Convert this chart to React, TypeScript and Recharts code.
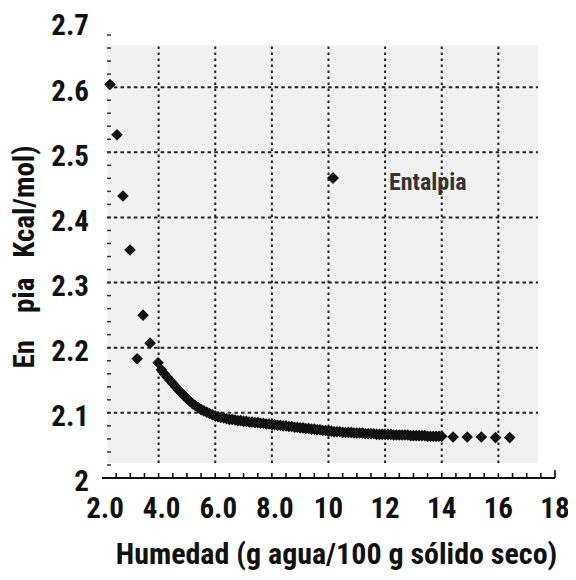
import React from 'react';
import { ScatterChart, Scatter, XAxis, YAxis, ReferenceLine, ReferenceArea, Legend, Label } from 'recharts';

const FONT = "'Liberation Sans Narrow', 'Arial Narrow', 'Roboto Condensed', 'DejaVu Sans Condensed', sans-serif";
const INK = '#111111';

// ---- data ----
const seriesName = 'Entalpia';

const xStart = [2.28, 2.53, 2.74, 2.99, 3.24, 3.45, 3.70, 3.98];
const yStart = [2.604, 2.527, 2.433, 2.350, 2.183, 2.250, 2.207, 2.177];

const xCurve = [
  4.1, 4.2, 4.3, 4.4, 4.5, 4.6, 4.7, 4.8, 4.9, 5.0,
  5.1, 5.2, 5.3, 5.4, 5.5, 5.6, 5.7, 5.8, 5.9, 6.0,
  6.1, 6.2, 6.3, 6.4, 6.5, 6.6, 6.7, 6.8, 6.9, 7.0,
  7.1, 7.2, 7.3, 7.4, 7.5, 7.6, 7.7, 7.8, 7.9, 8.0,
  8.1, 8.2, 8.3, 8.4, 8.5, 8.6, 8.7, 8.8, 8.9, 9.0,
  9.1, 9.2, 9.3, 9.4, 9.5, 9.6, 9.7, 9.8, 9.9, 10.0,
  10.1, 10.2, 10.3, 10.4, 10.5, 10.6, 10.7, 10.8, 10.9, 11.0,
  11.1, 11.2, 11.3, 11.4, 11.5, 11.6, 11.7, 11.8, 11.9, 12.0,
  12.1, 12.2, 12.3, 12.4, 12.5, 12.6, 12.7, 12.8, 12.9, 13.0,
  13.1, 13.2, 13.3, 13.4, 13.5, 13.6, 13.7, 13.8, 13.9, 14.0,
];
const yCurve = [
  2.166, 2.160, 2.155, 2.150, 2.145, 2.140, 2.135, 2.131, 2.126, 2.122,
  2.118, 2.114, 2.111, 2.108, 2.105, 2.103, 2.101, 2.099, 2.097, 2.095,
  2.094, 2.093, 2.092, 2.091, 2.090, 2.090, 2.089, 2.088, 2.088, 2.087,
  2.087, 2.086, 2.086, 2.085, 2.085, 2.084, 2.084, 2.083, 2.083, 2.082,
  2.082, 2.081, 2.081, 2.080, 2.080, 2.079, 2.079, 2.078, 2.078, 2.077,
  2.077, 2.076, 2.076, 2.075, 2.075, 2.074, 2.074, 2.073, 2.073, 2.072,
  2.072, 2.071, 2.071, 2.071, 2.070, 2.070, 2.070, 2.070, 2.069, 2.069,
  2.069, 2.069, 2.068, 2.068, 2.068, 2.068, 2.067, 2.067, 2.067, 2.067,
  2.067, 2.067, 2.066, 2.066, 2.066, 2.066, 2.066, 2.066, 2.065, 2.065,
  2.065, 2.065, 2.065, 2.065, 2.064, 2.064, 2.064, 2.064, 2.064, 2.064,
];

const xTail = [14.4, 14.9, 15.4, 15.9, 16.4];
const yTail = [2.063, 2.063, 2.063, 2.062, 2.062];

// ---- ticks ----
const xMajorTicks = [2, 4, 6, 8, 10, 12, 14, 16, 18];
const xTickLabels = ['2.0', '4.0', '6.0', '8.0', '10', '12', '14', '16', '18'];
const xMinorTicks = [
  2, 2.5, 3, 3.5, 4, 4.5, 5, 5.5, 6, 6.5, 7, 7.5, 8, 8.5, 9, 9.5, 10,
  10.5, 11, 11.5, 12, 12.5, 13, 13.5, 14, 14.5, 15, 15.5, 16, 16.5, 17, 17.5, 18,
];
const yMajorTicks = [2, 2.1, 2.2, 2.3, 2.4, 2.5, 2.6, 2.7];
const yTickLabels = ['2', '2.1', '2.2', '2.3', '2.4', '2.5', '2.6', '2.7'];
const yMinorTicks = [
  2, 2.02, 2.04, 2.06, 2.08, 2.1, 2.12, 2.14, 2.16, 2.18, 2.2, 2.22, 2.24, 2.26, 2.28,
  2.3, 2.32, 2.34, 2.36, 2.38, 2.4, 2.42, 2.44, 2.46, 2.48, 2.5, 2.52, 2.54, 2.56, 2.58,
  2.6, 2.62, 2.64, 2.66, 2.68, 2.7,
];
const xGrid = [4, 6, 8, 10, 12, 14, 16];
const yGrid = [2.1, 2.2, 2.3, 2.4, 2.5, 2.6];

// scanned paper patch behind the grid
const paperX = [2.18, 17.4];
const paperY = [2.023, 2.664];

const data = [
  ...xStart.map((x, i) => ({ x, y: yStart[i] })),
  ...xCurve.map((x, i) => ({ x, y: yCurve[i] })),
  ...xTail.map((x, i) => ({ x, y: yTail[i] })),
];

const near = (a: number, b: number) => Math.abs(a - b) < 1e-6;

const Diamond = (props: any) => {
  const { cx, cy } = props;
  const r = 5.8;
  return <polygon points={`${cx},${cy - r} ${cx + r},${cy} ${cx},${cy + r} ${cx - r},${cy}`} fill={INK} />;
};

const BottomTick = (props: any) => {
  const { x, y, payload } = props;
  const v = payload.value;
  const idx = xMajorTicks.findIndex((t) => near(t, v));
  const len = near(v, 18) ? 8 : 5;
  return (
    <g>
      {!near(v, 2) && <line x1={x} x2={x} y1={y} y2={y - len} stroke={INK} strokeWidth={1.6} />}
      {idx >= 0 && (
        <text x={x + (v < 9 ? 3 : 0)} y={y + 19} dy="0.72em" textAnchor="middle" fontFamily={FONT} fontWeight="bold" fontSize={29} fill={INK}>
          {xTickLabels[idx]}
        </text>
      )}
    </g>
  );
};

const TopTick = (props: any) => {
  const { x, y, payload } = props;
  const v = payload.value;
  const len = near(v, 2) ? 10 : near(v, 18) ? 4 : 7;
  return <line x1={x} x2={x} y1={y} y2={y + len} stroke={INK} strokeWidth={1.6} />;
};

const LeftTick = (props: any) => {
  const { x, y, payload } = props;
  const v = payload.value;
  const idx = yMajorTicks.findIndex((t) => near(t, v));
  return (
    <g>
      {!near(v, 2) && !near(v, 2.7) && (
        <line x1={x + 5} x2={x + 9} y1={y} y2={y} stroke="#333" strokeWidth={1.5} />
      )}
      {idx >= 0 && (
        <text x={x - 13} y={y + 3} dy="0.36em" textAnchor="end" fontFamily={FONT} fontWeight="bold" fontSize={29} fill={INK}>
          {yTickLabels[idx]}
        </text>
      )}
    </g>
  );
};

const renderLegend = (props: any) => {
  const item = props.payload && props.payload[0];
  return (
    <div style={{ display: 'flex', alignItems: 'center', fontFamily: FONT, whiteSpace: 'nowrap' }}>
      <svg width={12} height={12} style={{ display: 'block' }}>
        <polygon points="6,0 12,6 6,12 0,6" fill={INK} />
      </svg>
      <span style={{ marginLeft: 50, fontSize: 24, fontWeight: 'bold', color: '#333', position: 'relative', top: 4, lineHeight: 1 }}>
        {item ? item.value : seriesName}
      </span>
    </div>
  );
};

const YTitle = (props: any) => {
  const vb = props.viewBox || { x: 0, y: 0, width: 94, height: 456 };
  const tx = vb.x + 26;
  const ty = vb.y + vb.height / 2 + 7;
  return (
    <text x={tx} y={ty} transform={`rotate(-90, ${tx}, ${ty})`} textAnchor="middle" fontFamily={FONT} fontWeight="bold" fontSize={29} fill={INK}>
      <tspan>En</tspan>
      <tspan dx={27}>pia</tspan>
      <tspan dx={20}>Kcal/mol)</tspan>
    </text>
  );
};

const XTitle = (props: any) => {
  const vb = props.viewBox || { x: 94, y: 470, width: 453, height: 94 };
  const tx = vb.x + vb.width / 2 + 8;
  const ty = vb.y + 86;
  return (
    <text x={tx} y={ty} textAnchor="middle" fontFamily={FONT} fontWeight="bold" fontSize={30} fill={INK}>
      Humedad (g agua/100 g sólido seco)
    </text>
  );
};

export default function App() {
  return (
    <ScatterChart width={568} height={564} margin={{ top: 14, right: 21, bottom: 0, left: 0 }}>
      <ReferenceArea x1={paperX[0]} x2={paperX[1]} y1={paperY[0]} y2={paperY[1]} fill="#f1f1f1" fillOpacity={1} stroke="none" />
      {xGrid.map((g) => (
        <ReferenceLine
          key={`vx${g}`}
          segment={[{ x: g, y: paperY[0] }, { x: g, y: paperY[1] }]}
          stroke="#222"
          strokeWidth={2}
          strokeDasharray="2.4 3.6"
        />
      ))}
      {yGrid.map((g) => (
        <ReferenceLine
          key={`hy${g}`}
          segment={[{ x: paperX[0], y: g }, { x: paperX[1], y: g }]}
          stroke="#222"
          strokeWidth={2}
          strokeDasharray="3.5 3.2"
        />
      ))}
      <XAxis
        type="number"
        dataKey="x"
        domain={[2, 18]}
        ticks={xMinorTicks}
        interval={0}
        height={94}
        tickLine={false}
        tickSize={0}
        tickMargin={0}
        axisLine={{ stroke: INK, strokeWidth: 2 }}
        tick={(p: any) => <BottomTick {...p} />}
      >
        <Label content={(p: any) => <XTitle {...p} />} />
      </XAxis>
      <XAxis
        xAxisId="top"
        orientation="top"
        type="number"
        dataKey="x"
        domain={[2, 18]}
        ticks={xMinorTicks}
        interval={0}
        height={0}
        tickLine={false}
        tickSize={0}
        tickMargin={0}
        axisLine={{ stroke: INK, strokeWidth: 2 }}
        tick={(p: any) => <TopTick {...p} />}
      />
      <YAxis
        type="number"
        dataKey="y"
        domain={[2, 2.7]}
        ticks={yMinorTicks}
        interval={0}
        width={94}
        axisLine={false}
        tickLine={false}
        tickSize={0}
        tickMargin={0}
        tick={(p: any) => <LeftTick {...p} />}
      >
        <Label content={(p: any) => <YTitle {...p} />} />
      </YAxis>
      <Legend
        layout="horizontal"
        verticalAlign="middle"
        align="center"
        content={renderLegend}
        wrapperStyle={{ top: 158, left: 319, width: 'auto', height: 'auto' }}
      />
      <Scatter name={seriesName} data={data} fill={INK} shape={(p: any) => <Diamond {...p} />} isAnimationActive={false} />
    </ScatterChart>
  );
}
